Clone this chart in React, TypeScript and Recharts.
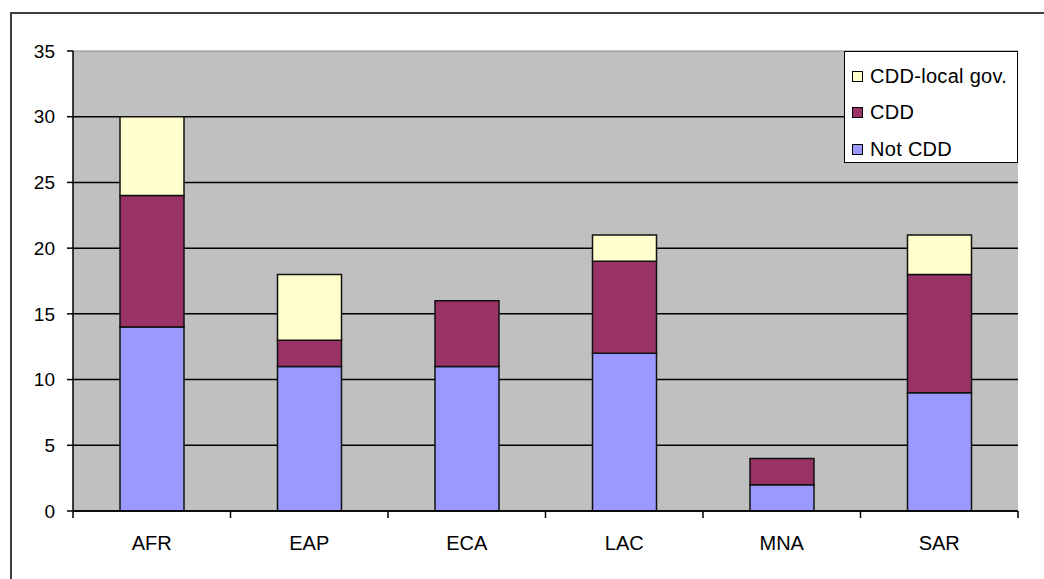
import React from "react";
import { BarChart, Bar, XAxis, YAxis, CartesianGrid, Legend } from "recharts";

const regions = ["AFR", "EAP", "ECA", "LAC", "MNA", "SAR"];
const notCdd = [14, 11, 11, 12, 2, 9];
const cdd = [10, 2, 5, 7, 2, 9];
const cddLocalGov = [6, 5, 0, 2, 0, 3];
const yTicks = [0, 5, 10, 15, 20, 25, 30, 35];

const W = 1044;
const H = 579;
const PLOT_TOP = 51;
const PLOT_LEFT = 73;
const PLOT_RIGHT = 1018;
const PLOT_BOTTOM = 511;
const Y_AXIS_W = 60;
const X_AXIS_H = 40;
const FONT = "'Liberation Sans', Arial, sans-serif";

const series = [
  { key: "notCdd", name: "Not CDD", color: "#9999FF" },
  { key: "cdd", name: "CDD", color: "#993366" },
  { key: "cddLocalGov", name: "CDD-local gov.", color: "#FFFFCC" },
];

const data = regions.map((r, i) => ({
  region: r,
  notCdd: notCdd[i],
  cdd: cdd[i],
  cddLocalGov: cddLocalGov[i],
}));

const band = (PLOT_RIGHT - PLOT_LEFT) / regions.length;

function RegionTick(props: any) {
  const { x, payload, index } = props;
  const left = x - band / 2;
  return (
    <g>
      <line x1={left} y1={PLOT_BOTTOM} x2={left} y2={PLOT_BOTTOM + 7} stroke="#000" strokeWidth={1.5} />
      {index === regions.length - 1 && (
        <line x1={x + band / 2} y1={PLOT_BOTTOM} x2={x + band / 2} y2={PLOT_BOTTOM + 7} stroke="#000" strokeWidth={1.5} />
      )}
      <text x={x} y={PLOT_BOTTOM + 32} dy="0.35em" textAnchor="middle" fontSize={20} fontFamily={FONT} fill="#000">
        {payload.value}
      </text>
    </g>
  );
}

function GridLine(p: any) {
  const top = p.y1 <= PLOT_TOP + 1;
  return (
    <line
      key={p.key ?? `gl-${p.index}`}
      x1={p.x1}
      y1={p.y1}
      x2={p.x2}
      y2={p.y2}
      stroke={top ? "#8a8a8a" : "#000"}
      strokeWidth={top ? 1 : 1.5}
    />
  );
}

function LegendBox() {
  const items = [...series].reverse();
  return (
    <div
      style={{
        width: 174,
        height: 112,
        border: "1.5px solid #000",
        background: "#fff",
        fontFamily: FONT,
        fontSize: 20,
        color: "#000",
        boxSizing: "border-box",
        paddingTop: 6,
      }}
    >
      {items.map((s) => (
        <div key={s.key} style={{ display: "flex", alignItems: "center", height: 36.5, paddingLeft: 7 }}>
          <span
            style={{
              width: 11,
              height: 11,
              background: s.color,
              border: "1.5px solid #000",
              boxSizing: "border-box",
              marginRight: 7,
            }}
          />
          <span style={{ whiteSpace: "nowrap", letterSpacing: 0.3 }}>{s.name}</span>
        </div>
      ))}
    </div>
  );
}

export default function App() {
  return (
    <div style={{ position: "absolute", left: 0, top: 0, width: W, height: H, background: "#fff", overflow: "hidden" }}>
      {/* chart frame, only its top and left edges fall inside the page */}
      <div
        style={{
          position: "absolute",
          left: 10,
          top: 12,
          width: W + 20,
          height: H + 20,
          borderTop: "2px solid #404040",
          borderLeft: "2px solid #404040",
        }}
      />
      <div style={{ position: "absolute", left: 0, top: 0 }}>
        <BarChart
          width={W}
          height={H}
          data={data}
          barSize={64}
          margin={{
            top: PLOT_TOP,
            right: W - PLOT_RIGHT,
            left: PLOT_LEFT - Y_AXIS_W,
            bottom: H - PLOT_BOTTOM - X_AXIS_H,
          }}
        >
          <CartesianGrid fill="#C0C0C0" vertical={false} horizontal={GridLine} />
          <XAxis
            dataKey="region"
            height={X_AXIS_H}
            axisLine={{ stroke: "#000", strokeWidth: 1.5 }}
            tickLine={false}
            tick={<RegionTick />}
            interval={0}
          />
          <YAxis
            width={Y_AXIS_W}
            domain={[0, 35]}
            ticks={yTicks}
            interval={0}
            axisLine={{ stroke: "#000", strokeWidth: 1.5 }}
            tickLine={{ stroke: "#000", strokeWidth: 1.5 }}
            tickSize={6}
            tickMargin={12}
            tick={{ fontSize: 19, fontFamily: FONT, fill: "#000" }}
          />
          <Legend
            layout="horizontal"
            verticalAlign="middle"
            align="center"
            content={<LegendBox />}
            wrapperStyle={{ left: 844, top: 51, width: 174, height: 112 }}
          />
          {series.map((s) => (
            <Bar
              key={s.key}
              dataKey={s.key}
              name={s.name}
              stackId="a"
              fill={s.color}
              stroke="#111"
              strokeWidth={1.5}
              isAnimationActive={false}
            />
          ))}
        </BarChart>
      </div>
    </div>
  );
}
